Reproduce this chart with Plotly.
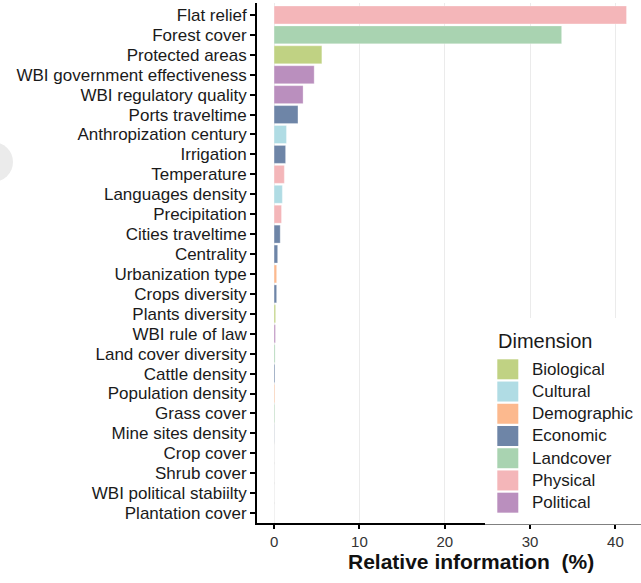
import plotly.graph_objects as go

features = [
    "Flat relief", "Forest cover", "Protected areas", "WBI government effectiveness",
    "WBI regulatory quality", "Ports traveltime", "Anthropization century", "Irrigation",
    "Temperature", "Languages density", "Precipitation", "Cities traveltime", "Centrality",
    "Urbanization type", "Crops diversity", "Plants diversity", "WBI rule of law",
    "Land cover diversity", "Cattle density", "Population density", "Grass cover",
    "Mine sites density", "Crop cover", "Shrub cover", "WBI political stabiilty",
    "Plantation cover",
]
values = [
    41.3, 33.7, 5.6, 4.7,
    3.4, 2.8, 1.45, 1.35,
    1.2, 0.97, 0.87, 0.72, 0.42,
    0.3, 0.3, 0.18, 0.16,
    0.12, 0.1, 0.08, 0.08,
    0.02, 0.0, 0.0, 0.0,
    0.0,
]
feature_dims = [
    "Physical", "Landcover", "Biological", "Political",
    "Political", "Economic", "Cultural", "Economic",
    "Physical", "Cultural", "Physical", "Economic", "Economic",
    "Demographic", "Economic", "Biological", "Political",
    "Landcover", "Economic", "Demographic", "Landcover",
    "Economic", "Landcover", "Landcover", "Political",
    "Landcover",
]
dimensions = ["Biological", "Cultural", "Demographic", "Economic", "Landcover", "Physical", "Political"]
dim_colors = ["#c0d283", "#b0dce4", "#fcb98e", "#6e85a7", "#a9d3b1", "#f4b6b9", "#ba8fbe"]
x_ticks = [0, 10, 20, 30, 40]

FONT = "Liberation Sans, Arial, sans-serif"
W, H = 641, 583
ML, MR, MT, MB = 257, 0, 3, 60
PW, PH = W - ML - MR, H - MT - MB


def px_x(p):
    return (p - ML) / PW


def px_y(p):
    return (H - MB - p) / PH


fig = go.Figure()
for dim, col in zip(dimensions, dim_colors):
    xs = [v for v, d in zip(values, feature_dims) if d == dim]
    ys = [f for f, d in zip(features, feature_dims) if d == dim]
    fig.add_trace(go.Bar(
        x=xs, y=ys, orientation="h", name=dim, width=0.9,
        marker=dict(color=col, line=dict(color="rgba(255,255,255,0.6)", width=0.5)),
        showlegend=False,
    ))

shapes = []
annotations = []
# faint grey blob at left edge of reference
shapes.append(dict(type="circle", xref="paper", yref="paper", layer="below",
                   x0=px_x(-28), x1=px_x(13), y0=px_y(182), y1=px_y(142),
                   fillcolor="#ebebeb", line=dict(width=0)))
# legend background (covers grid and axis line like the reference)
shapes.append(dict(type="rect", xref="paper", yref="paper", layer="above",
                   x0=px_x(485), x1=px_x(660), y0=px_y(524.5), y1=px_y(318),
                   fillcolor="white", line=dict(width=0)))
annotations.append(dict(text="Dimension", xref="paper", yref="paper",
                        x=px_x(496), y=px_y(341), xanchor="left", yanchor="middle",
                        showarrow=False, font=dict(family=FONT, size=20, color="#1a1a1a")))
for i, (dim, col) in enumerate(zip(dimensions, dim_colors)):
    cy = 369.3 + 22.23 * i
    shapes.append(dict(type="rect", xref="paper", yref="paper", layer="above",
                       x0=px_x(497.3), x1=px_x(518.3), y0=px_y(cy + 10), y1=px_y(cy - 10),
                       fillcolor=col, line=dict(width=0)))
    annotations.append(dict(text=dim, xref="paper", yref="paper",
                            x=px_x(530), y=px_y(cy), xanchor="left", yanchor="middle",
                            showarrow=False, font=dict(family=FONT, size=17, color="#1a1a1a")))
# x-axis title
annotations.append(dict(text="<b>Relative information \u00a0(%)</b>", xref="paper", yref="paper",
                        x=px_x(471), y=px_y(561), xanchor="center", yanchor="middle",
                        showarrow=False, font=dict(family=FONT, size=21, color="#111111")))

fig.update_layout(
    width=W, height=H,
    margin=dict(l=ML, r=MR, t=MT, b=MB, pad=0, autoexpand=False),
    paper_bgcolor="white", plot_bgcolor="white",
    barmode="overlay", bargap=0.1,
    shapes=shapes, annotations=annotations,
    showlegend=False,
    font=dict(family=FONT),
)
fig.update_xaxes(
    range=[-2.0, 43.0], tickmode="array", tickvals=x_ticks, ticktext=[str(t) for t in x_ticks],
    showgrid=True, gridcolor="#ebebeb", gridwidth=1, zeroline=False,
    showline=True, linecolor="black", linewidth=1.8, automargin=False,
    ticks="outside", ticklen=4, tickwidth=1.5, tickcolor="black",
    tickfont=dict(family=FONT, size=15, color="#333333"),
)
fig.update_yaxes(
    categoryorder="array", categoryarray=list(reversed(features)),
    tickmode="array", tickvals=features, ticktext=features,
    range=[-0.5, 25.6], showgrid=False, zeroline=False,
    showline=True, linecolor="black", linewidth=1.8, automargin=False,
    ticks="outside", ticklen=5, tickwidth=1.5, tickcolor="black",
    tickfont=dict(family=FONT, size=17, color="#1a1a1a"),
)

fig.write_html(
    "out.html",
    config={"displayModeBar": False},
    post_script="document.body.style.margin='0';document.body.style.overflow='hidden';",
)
